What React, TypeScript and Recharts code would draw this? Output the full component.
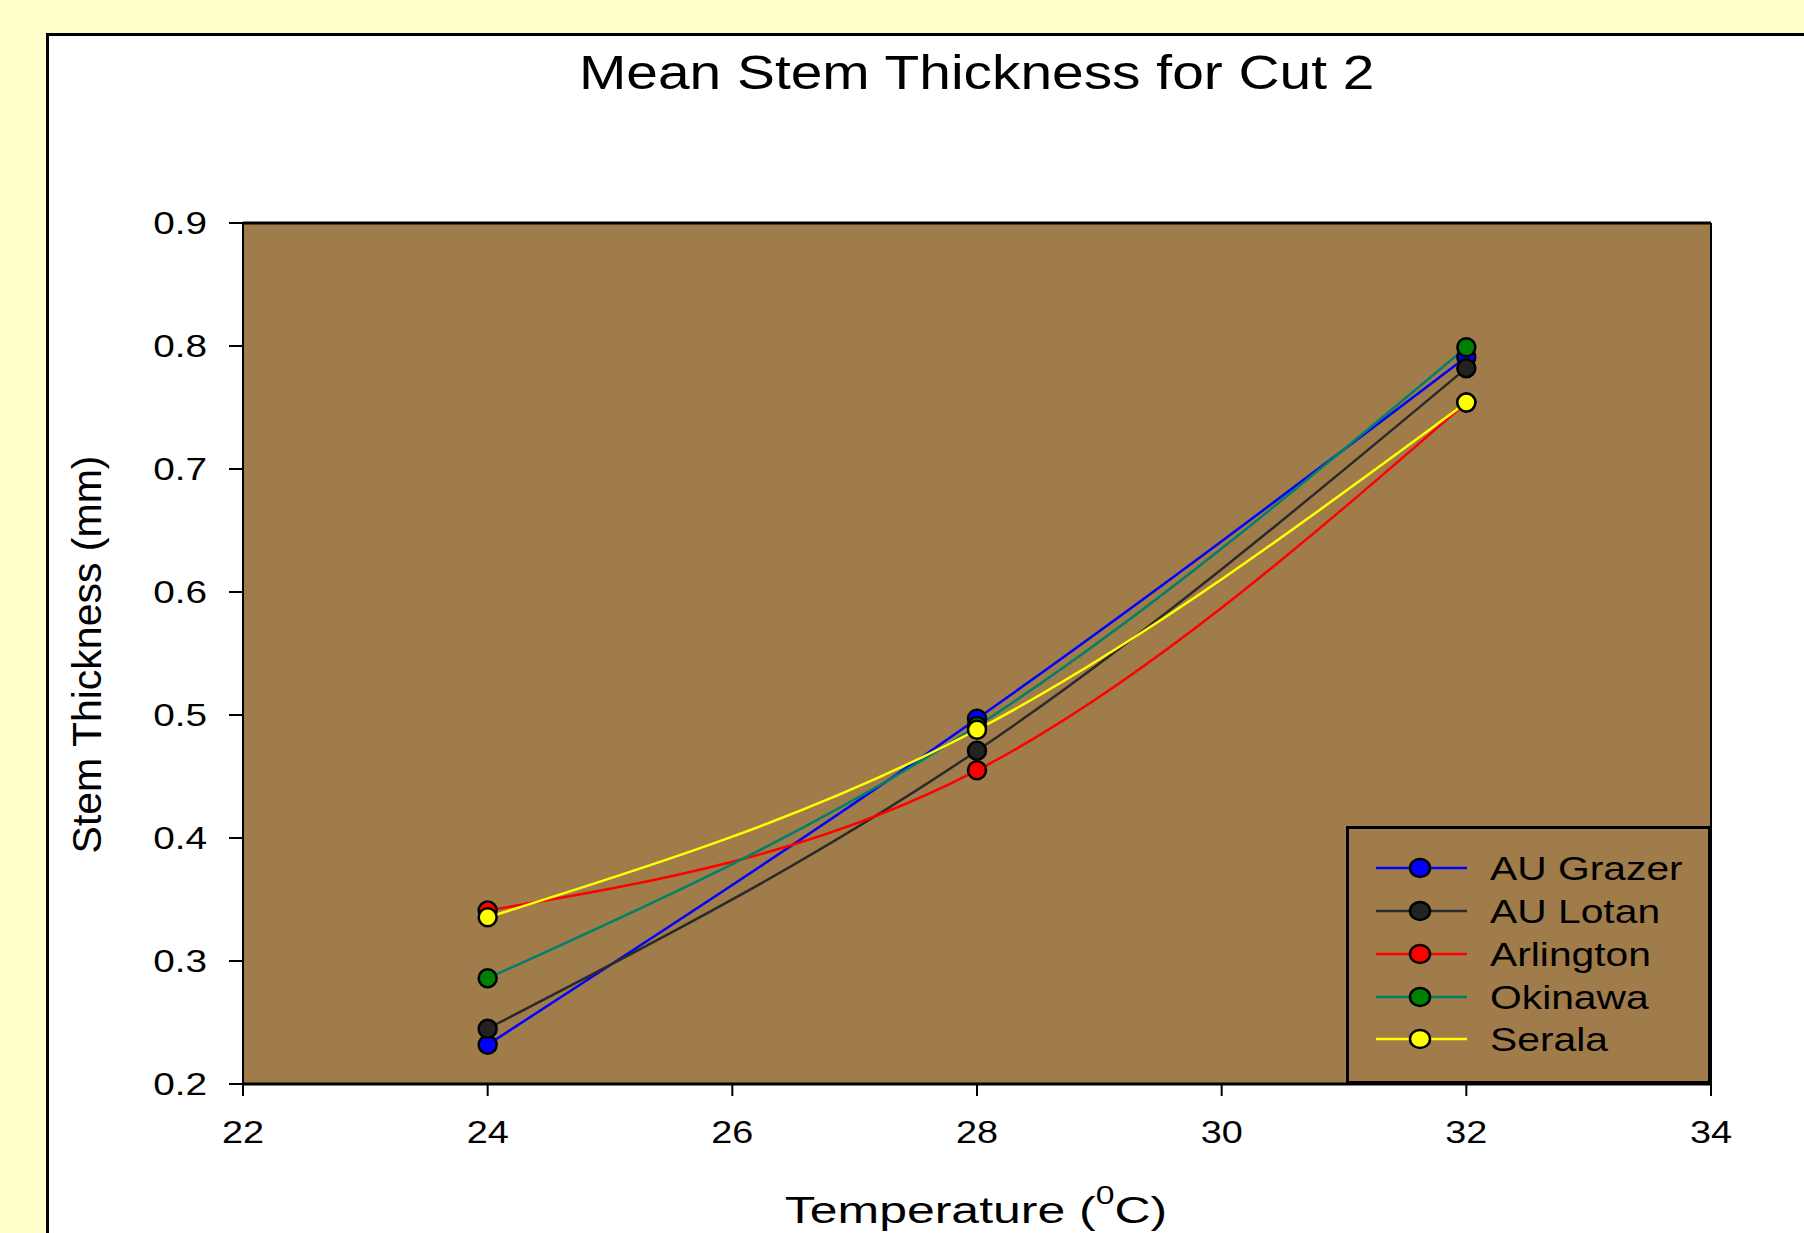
import React from 'react';
import { LineChart, Line, XAxis, YAxis, CartesianGrid, ReferenceLine, Legend, Label } from 'recharts';

const temperatures = [24, 28, 32];
const auGrazer = [0.232, 0.497, 0.791];
const auLotan = [0.245, 0.471, 0.782];
const arlington = [0.341, 0.455, 0.754];
const okinawa = [0.286, 0.491, 0.799];
const serala = [0.3355, 0.488, 0.754];

const xTicks = [22, 24, 26, 28, 30, 32, 34];
const yTicks = [0.2, 0.3, 0.4, 0.5, 0.6, 0.7, 0.8, 0.9];

const series = [
  { key: 'auGrazer', name: 'AU Grazer', values: auGrazer, line: '#0000FF', fill: '#0000FF' },
  { key: 'auLotan', name: 'AU Lotan', values: auLotan, line: '#2a2a2a', fill: '#222222' },
  { key: 'arlington', name: 'Arlington', values: arlington, line: '#FF0000', fill: '#FF0000' },
  { key: 'okinawa', name: 'Okinawa', values: okinawa, line: '#00806A', fill: '#008000' },
  { key: 'serala', name: 'Serala', values: serala, line: '#FFFF00', fill: '#FFFF00' },
];

const data = temperatures.map((t, i) => {
  const row: any = { t };
  series.forEach((s) => { row[s.key] = s.values[i]; });
  return row;
});

const FONT = '"Liberation Sans", Arial, Helvetica, sans-serif';
const BROWN = '#A07C4B';

const XTick = (props: any) => {
  const { x, y, payload } = props;
  return (
    <g transform={`translate(${x},${y}) scale(1.22,1)`}>
      <text x={0} y={47} textAnchor="middle" fontSize={31} fontFamily={FONT} fill="#000">{payload.value}</text>
    </g>
  );
};

const YTick = (props: any) => {
  const { x, y, payload } = props;
  return (
    <g transform={`translate(${x},${y}) scale(1.25,1)`}>
      <text x={0} y={0} dy="0.36em" textAnchor="end" fontSize={31} fontFamily={FONT} fill="#000">{Number(payload.value).toFixed(1)}</text>
    </g>
  );
};

const XTitle = (props: any) => {
  const vb = props.viewBox || {};
  const cx = vb.x + vb.width / 2 - 1;
  const by = vb.y + 139;
  return (
    <g transform={`translate(${cx},${by}) scale(1.35,1)`}>
      <text x={0} y={0} textAnchor="middle" fontSize={37} fontFamily={FONT} fill="#000">
        Temperature (<tspan fontSize={25} dy={-19}>0</tspan><tspan dy={19}>C)</tspan>
      </text>
    </g>
  );
};

const YTitle = (props: any) => {
  const vb = props.viewBox || {};
  const bx = vb.x - 42;
  const cy = vb.y + vb.height / 2 + 1;
  return (
    <text x={bx} y={cy} transform={`rotate(-90, ${bx}, ${cy})`} textAnchor="middle" fontSize={41} fontFamily={FONT} fill="#000">
      Stem Thickness (mm)
    </text>
  );
};

const LegendBox = () => {
  const rowY = [42, 85, 128, 171, 213];
  return (
    <svg width={365} height={258} style={{ display: 'block' }}>
      <rect x={1.5} y={1.5} width={362} height={255} fill={BROWN} stroke="#000" strokeWidth={3} />
      {series.map((s, i) => (
        <g key={s.key}>
          <line x1={30} x2={121} y1={rowY[i]} y2={rowY[i]} stroke={s.line} strokeWidth={2.5} />
          <ellipse cx={74} cy={rowY[i]} rx={10} ry={9} fill={s.fill} stroke="#000" strokeWidth={2.5} />
          <g transform={`translate(144,${rowY[i] + 12}) scale(1.2,1)`}>
            <text x={0} y={0} fontSize={34} fontFamily={FONT} fill="#000">{s.name}</text>
          </g>
        </g>
      ))}
    </svg>
  );
};

export default function App() {
  return (
    <div style={{ position: 'absolute', left: 0, top: 0, width: 1804, height: 1233, background: '#FFFFCC', overflow: 'hidden' }}>
      <div style={{ position: 'absolute', left: 46, top: 33, width: 1804, height: 1300, background: '#FFFFFF', border: '3px solid #000', boxSizing: 'border-box' }} />
      <div style={{ position: 'absolute', left: 243, top: 49, width: 1468, textAlign: 'center', fontFamily: FONT, fontSize: 48, lineHeight: '48px', color: '#000', whiteSpace: 'nowrap' }}>
        <span style={{ display: 'inline-block', transform: 'scaleX(1.185)' }}>Mean Stem Thickness for Cut 2</span>
      </div>
      <div style={{ position: 'absolute', left: 0, top: 0 }}>
        <LineChart width={1804} height={1233} data={data} margin={{ top: 223, right: 93, bottom: 89, left: 143 }}>
          <CartesianGrid horizontal={false} vertical={false} fill={BROWN} fillOpacity={1} />
          <XAxis
            dataKey="t"
            type="number"
            domain={[22, 34]}
            ticks={xTicks}
            height={60}
            tickSize={12}
            tickMargin={0}
            axisLine={{ stroke: '#000', strokeWidth: 3 }}
            tickLine={{ stroke: '#000', strokeWidth: 2 }}
            tick={<XTick />}
            interval={0}
          >
            <Label content={<XTitle />} />
          </XAxis>
          <YAxis
            type="number"
            domain={[0.2, 0.9]}
            ticks={yTicks}
            width={100}
            tickSize={14}
            tickMargin={22}
            axisLine={{ stroke: '#000', strokeWidth: 2 }}
            tickLine={{ stroke: '#000', strokeWidth: 2 }}
            tick={<YTick />}
            interval={0}
            allowDataOverflow
          >
            <Label content={<YTitle />} />
          </YAxis>
          <ReferenceLine y={0.9} stroke="#000" strokeWidth={3} />
          <ReferenceLine x={34} stroke="#000" strokeWidth={2} />
          <Legend
            layout="horizontal"
            verticalAlign="middle"
            align="center"
            content={<LegendBox />}
            wrapperStyle={{ left: 1346, top: 826, width: 365, height: 258 }}
          />
          {series.map((s) => (
            <Line
              key={s.key}
              dataKey={s.key}
              name={s.name}
              type="natural"
              stroke={s.line}
              strokeWidth={2.5}
              dot={{ r: 9, fill: s.fill, stroke: '#000', strokeWidth: 2.5 }}
              activeDot={false}
              isAnimationActive={false}
            />
          ))}
        </LineChart>
      </div>
    </div>
  );
}
